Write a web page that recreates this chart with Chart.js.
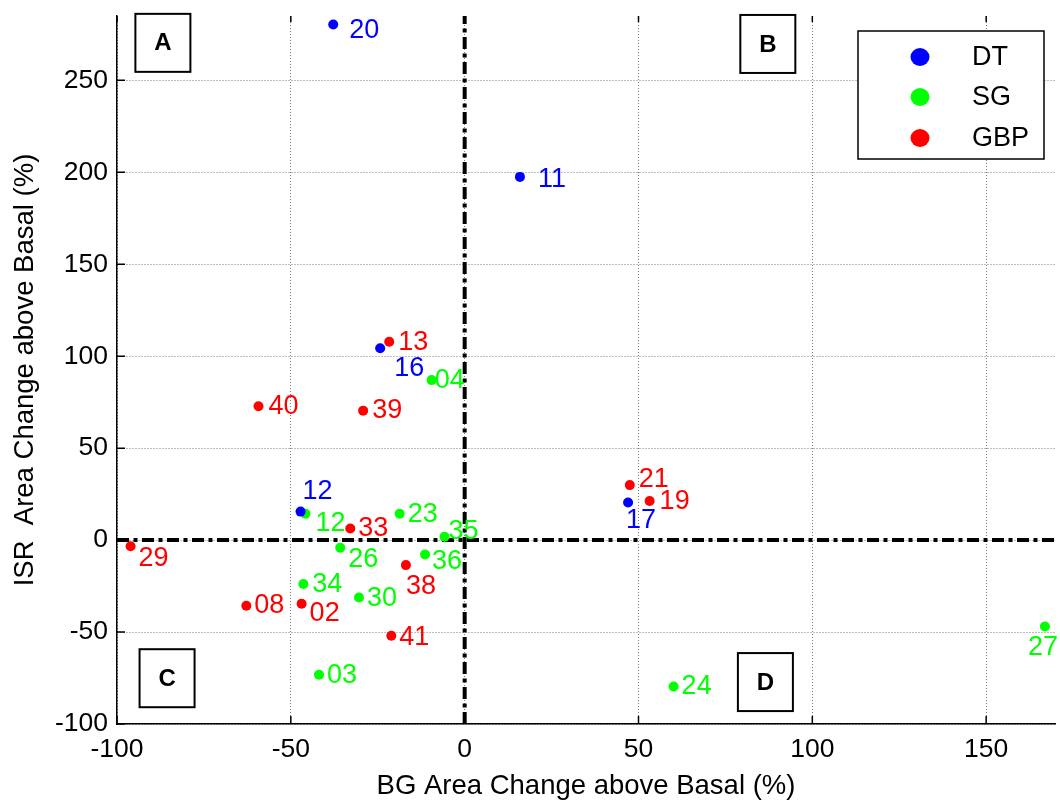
<!DOCTYPE html>
<html lang="en">
<head>
<meta charset="UTF-8">
<title>ISR vs BG area change above basal</title>
<script src="https://cdn.jsdelivr.net/npm/chart.js@4"></script>
<style>
  html, body { margin: 0; padding: 0; background: #fff; overflow: hidden; }
  #wrap { width: 1060px; height: 803px; }
</style>
</head>
<body>
<div id="wrap"><canvas id="chart" width="1060" height="803"></canvas></div>
<script>
// values (% change above basal)
const dtLabels = ['20', '11', '16', '12', '17'];
const dtBG  = [-37.8, 15.9, -24.3, -47.2, 47.0];
const dtISR = [280.4, 197.5, 104.3, 15.5, 20.4];

const sgLabels = ['04', '12', '23', '35', '26', '36', '34', '30', '03', '24', '27'];
const sgBG  = [-9.5, -45.8, -18.7, -5.8, -35.8, -11.4, -46.4, -30.4, -41.9, 60.1, 166.9];
const sgISR = [87.0, 14.3, 14.3, 1.8, -4.2, -7.8, -23.9, -31.2, -73.2, -79.6, -47.0];

const gbpLabels = ['13', '40', '39', '33', '29', '38', '08', '02', '41', '21', '19'];
const gbpBG  = [-21.7, -59.3, -29.2, -32.9, -96.1, -16.9, -62.8, -46.9, -21.1, 47.5, 53.2];
const gbpISR = [107.9, 72.8, 70.4, 6.3, -3.3, -13.6, -35.7, -34.6, -52.0, 29.9, 21.3];

const xTicks = [-100, -50, 0, 50, 100, 150];
const yTicks = [-100, -50, 0, 50, 100, 150, 200, 250];
const xMin = -100, xMax = 169.8;
const yMin = -100, yMax = 285;

// quadrant tags, centred at these data coordinates
const quadrants = ['A', 'B', 'C', 'D'];
const quadrantBG  = [-86.8, 87.2, -85.6, 86.5];
const quadrantISR = [270.4, 269.8, -75.1, -77.2];

// where each number label sits relative to its dot (px: text left, text centre)
const dtNudge  = [[16, 6], [18, 3], [14, 20], [2, -20], [-2, 18]];
const sgNudge  = [[3, 0], [10, 10], [8, 1], [4, -5], [8, 12], [7, 7], [9, 0], [8, 1], [8, 1], [8, 0], [-17, 21]];
const gbpNudge = [[9, 1], [10, 0], [9, 0], [8, 0], [8, 12], [0, 21], [8, 0], [8, 10], [8, 2], [9, -6], [10, 1]];

const FONT = "'Liberation Sans', Arial, sans-serif";
Chart.defaults.font.family = FONT;
Chart.defaults.color = '#000';

const pts = (xs, ys) => xs.map((x, i) => ({ x, y: ys[i] }));

function group(label, color, xs, ys, ids, nudge) {
    return {
        label, data: pts(xs, ys), ids, nudge,
        backgroundColor: color, borderColor: color,
        pointRadius: 5, pointHoverRadius: 5, borderWidth: 0, order: 0
    };
}

function zeroLine(data) {
    return {
        label: '', data, showLine: true, pointRadius: 0,
        borderColor: '#000', borderWidth: 4, borderDash: [12, 4.5, 4, 4.5],
        borderCapStyle: 'butt', order: 5
    };
}

const labelPlugin = {
    id: 'pointLabels',
    afterDatasetsDraw(chart) {
        const ctx = chart.ctx;
        ctx.save();
        ctx.font = '27px ' + FONT;
        ctx.textAlign = 'left';
        ctx.textBaseline = 'middle';
        chart.data.datasets.forEach((ds, i) => {
            if (!ds.ids) return;
            ctx.fillStyle = ds.borderColor;
            chart.getDatasetMeta(i).data.forEach((el, j) => {
                const [dx, dy] = ds.nudge[j];
                ctx.fillText(ds.ids[j], el.x + dx, el.y + dy);
            });
        });
        ctx.restore();
    }
};

const decorPlugin = {
    id: 'decor',
    afterDraw(chart) {
        const ctx = chart.ctx;
        const { x, y } = chart.scales;
        const area = chart.chartArea;
        ctx.save();

        // inward tick marks like the original
        ctx.strokeStyle = '#000';
        ctx.lineWidth = 1.5;
        ctx.beginPath();
        xTicks.forEach(v => {
            const px = x.getPixelForValue(v);
            ctx.moveTo(px, area.bottom); ctx.lineTo(px, area.bottom - 8);
            ctx.moveTo(px, area.top); ctx.lineTo(px, area.top + 6);
        });
        yTicks.forEach(v => {
            const py = y.getPixelForValue(v);
            ctx.moveTo(area.left, py); ctx.lineTo(area.left + 8, py);
        });
        ctx.stroke();

        // quadrant boxes
        ctx.font = 'bold 24px ' + FONT;
        ctx.textAlign = 'center';
        ctx.textBaseline = 'middle';
        quadrants.forEach((q, i) => {
            const cx = x.getPixelForValue(quadrantBG[i]);
            const cy = y.getPixelForValue(quadrantISR[i]);
            ctx.fillStyle = '#fff';
            ctx.fillRect(cx - 27.5, cy - 29, 55, 58);
            ctx.lineWidth = 2;
            ctx.strokeRect(cx - 27.5, cy - 29, 55, 58);
            ctx.fillStyle = '#000';
            ctx.fillText(q, cx, cy + 1);
        });

        // legend box
        const lw = 186, lh = 128;
        const lx = area.right - 11 - lw, ly = area.top + 15;
        ctx.fillStyle = '#fff';
        ctx.fillRect(lx, ly, lw, lh);
        ctx.lineWidth = 1.5;
        ctx.strokeRect(lx, ly, lw, lh);
        const rows = [26, 66, 107];
        ctx.font = '27px ' + FONT;
        ctx.textAlign = 'left';
        chart.data.datasets.filter(d => d.ids).forEach((ds, i) => {
            ctx.fillStyle = ds.backgroundColor;
            ctx.beginPath();
            ctx.ellipse(lx + 62, ly + rows[i], 9.5, 9, 0, 0, Math.PI * 2);
            ctx.fill();
            ctx.fillStyle = '#000';
            ctx.fillText(ds.label, lx + 114, ly + rows[i] + 1);
        });
        ctx.restore();
    }
};

new Chart(document.getElementById('chart'), {
    type: 'scatter',
    data: {
        datasets: [
            group('DT', '#0000ff', dtBG, dtISR, dtLabels, dtNudge),
            group('SG', '#00ff00', sgBG, sgISR, sgLabels, sgNudge),
            group('GBP', '#ff0000', gbpBG, gbpISR, gbpLabels, gbpNudge),
            zeroLine([{ x: xMin, y: 0 }, { x: xMax, y: 0 }]),
            zeroLine([{ x: 0, y: yMin }, { x: 0, y: yMax }])
        ]
    },
    options: {
        responsive: false,
        animation: false,
        devicePixelRatio: 1,
        layout: { padding: { top: 16, right: 0, bottom: 0, left: 0 } },
        plugins: { legend: { display: false }, tooltip: { enabled: false } },
        scales: {
            x: {
                type: 'linear', min: xMin, max: xMax,
                afterBuildTicks: s => { s.ticks = xTicks.map(value => ({ value })); },
                afterFit: s => { s.height = 79; s.paddingLeft = 0; s.paddingRight = 0; },
                ticks: { font: { size: 26.5 }, padding: 10, maxRotation: 0 },
                grid: { color: '#7a7a7a', lineWidth: 1, drawTicks: false },
                border: { color: '#000', width: 1.5, dash: [1, 2] },
                title: {
                    display: true, text: 'BG Area Change above Basal (%)',
                    font: { size: 27.5, lineHeight: 1.2 }, padding: { top: 0, bottom: 0 }
                }
            },
            y: {
                type: 'linear', min: yMin, max: yMax,
                afterBuildTicks: s => { s.ticks = yTicks.map(value => ({ value })); },
                afterFit: s => { s.width = 117; s.paddingTop = 0; s.paddingBottom = 0; },
                ticks: { font: { size: 26.5 }, padding: 9 },
                grid: { color: '#7a7a7a', lineWidth: 1, drawTicks: false },
                border: { color: '#000', width: 1.5, dash: [1, 2] },
                title: {
                    display: true, text: 'ISR  Area Change above Basal (%)',
                    font: { size: 27.5, lineHeight: 1.2 }, padding: { top: 9, bottom: 0 }
                }
            }
        }
    },
    plugins: [labelPlugin, decorPlugin]
});
</script>
</body>
</html>
